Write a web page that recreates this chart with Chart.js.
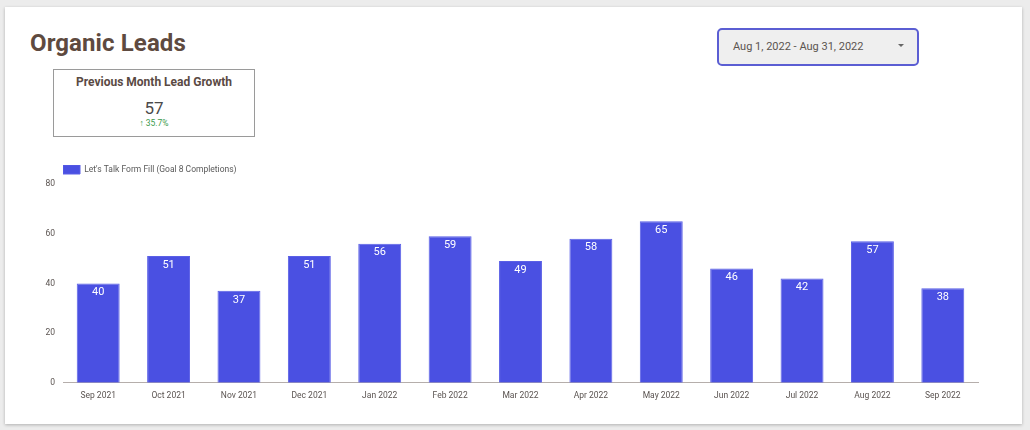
<!DOCTYPE html>
<html>
<head>
<meta charset="utf-8">
<script src="https://cdn.jsdelivr.net/npm/chart.js@4"></script>
<style>
  html, body { margin:0; padding:0; }
  body { width:1030px; height:430px; background:#ececec; font-family: Roboto, "Noto Sans", sans-serif; position:relative; overflow:hidden; }
  #card { position:absolute; left:5px; top:7px; width:1017px; height:417px; background:#fff; box-shadow:0 1px 3px rgba(0,0,0,0.25); }
  #title { position:absolute; left:30px; top:29px; font-size:24px; font-weight:700; color:#5e4a40; letter-spacing:0.1px; }
  #score { position:absolute; left:53px; top:69px; width:200px; height:66px; border:1px solid #9a9a9a; text-align:center; background:#fff; }
  #score .t { position:absolute; top:5px; left:0; right:0; font-size:12px; font-weight:700; color:#5a4a44; }
  #score .v { position:absolute; top:28px; left:0; right:0; font-size:17px; color:#4a4a4a; }
  #score .d { position:absolute; top:48px; left:0; right:0; font-size:8.5px; color:#3b9a4b; }
  #date { position:absolute; left:717px; top:28px; width:198px; height:34px; border:2px solid #5b5ed3; border-radius:5px; background:#efefef; }
  #date .txt { position:absolute; left:14px; top:10px; font-size:11px; color:#5b5450; }
  #date .arr { position:absolute; left:179px; top:14px; width:0; height:0; border-left:3px solid transparent; border-right:3px solid transparent; border-top:3px solid #666; }
  #wrap { position:absolute; left:20px; top:157px; width:1000px; height:244px; }
</style>
</head>
<body>
<div id="card"></div>
<div id="title">Organic Leads</div>
<div id="score">
  <div class="t">Previous Month Lead Growth</div>
  <div class="v">57</div>
  <div class="d">&#x2191; 35.7%</div>
</div>
<div id="date"><div class="txt">Aug 1, 2022 - Aug 31, 2022</div><div class="arr"></div></div>
<div id="wrap"><canvas id="c"></canvas></div>
<script>
const categories = ["Sep 2021","Oct 2021","Nov 2021","Dec 2021","Jan 2022","Feb 2022","Mar 2022","Apr 2022","May 2022","Jun 2022","Jul 2022","Aug 2022","Sep 2022"];
const leads = [40,51,37,51,56,59,49,58,65,46,42,57,38];
const seriesName = "Let's Talk Form Fill (Goal 8 Completions)";
const yTicks = [0,20,40,60,80];

const valueLabels = {
  id: 'valueLabels',
  afterDatasetsDraw(chart) {
    const ctx = chart.ctx;
    const meta = chart.getDatasetMeta(0);
    ctx.save();
    ctx.fillStyle = '#ffffff';
    ctx.font = '11px Roboto, sans-serif';
    ctx.textAlign = 'center';
    ctx.textBaseline = 'middle';
    meta.data.forEach((bar, i) => {
      ctx.fillText(String(chart.data.datasets[0].data[i]), bar.x, bar.y + 9);
    });
    ctx.restore();
  }
};

new Chart(document.getElementById('c'), {
  type: 'bar',
  data: {
    labels: categories,
    datasets: [{
      label: seriesName,
      data: leads,
      backgroundColor: '#4a50e2',
      borderColor: '#5a5fe6',
      borderWidth: 1,
      categoryPercentage: 1,
      barPercentage: 0.61
    }]
  },
  options: {
    responsive: true,
    maintainAspectRatio: false,
    animation: false,
    layout: { padding: { left: 0, right: 42, top: 8, bottom: 0 } },
    plugins: {
      legend: {
        display: true,
        position: 'top',
        align: 'start',
        fullSize: false,
        labels: {
          boxWidth: 17, boxHeight: 9, padding: 0,
          color: '#5a5a5a',
          font: { family: 'Roboto, sans-serif', size: 8.5 }
        }
      },
      tooltip: { enabled: false }
    },
    scales: {
      x: {
        grid: { display: false },
        border: { display: true, color: '#b5aeab', width: 1 },
        ticks: { color: '#5a5350', font: { family: 'Roboto, sans-serif', size: 8.5 }, padding: 0 }
      },
      y: {
        min: 0, max: 80,
        afterBuildTicks(axis) { axis.ticks = yTicks.map(v => ({ value: v })); },
        afterFit(axis) { axis.width = 43; },
        grid: { display: false },
        border: { display: false },
        ticks: { color: '#5a5350', font: { family: 'Roboto, sans-serif', size: 8.5 }, padding: 0 }
      }
    }
  },
  plugins: [valueLabels]
});
</script>
</body>
</html>
